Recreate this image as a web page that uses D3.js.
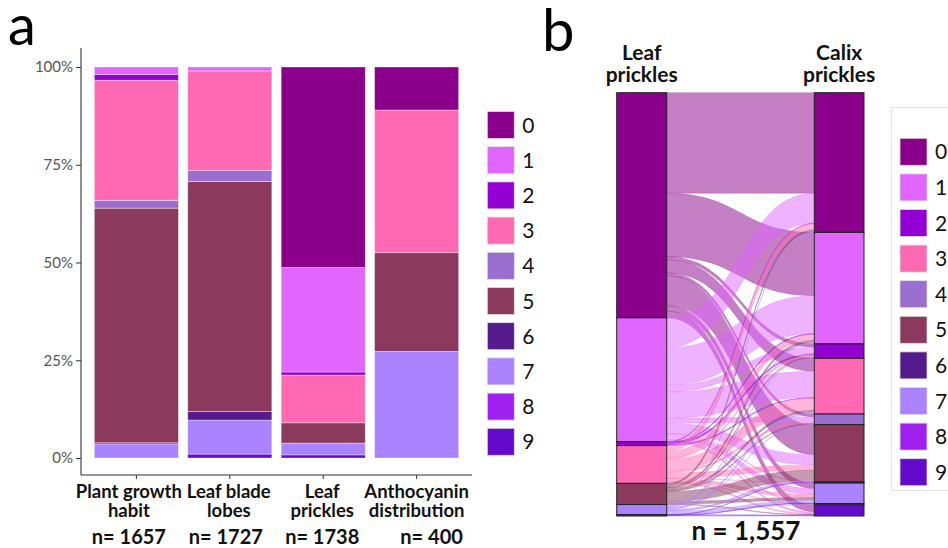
<!DOCTYPE html>
<html>
<head>
<meta charset="utf-8">
<script src="https://cdn.jsdelivr.net/npm/d3@7"></script>
<style>
  html, body { margin: 0; padding: 0; background: #fff; }
  svg { display: block; font-family: Lato, "Open Sans", sans-serif; }
</style>
</head>
<body>
<svg id="fig" width="948" height="548"></svg>
<script>
// Score classes shared by both panels
const classes = ["0", "1", "2", "3", "4", "5", "6", "7", "8", "9"];
const classColors = ["#8B008B", "#E066FF", "#9400D3", "#FF69B4", "#9A6ECE",
                     "#8B3A5E", "#551A8B", "#AB82FF", "#A020F0", "#640ACD"];

// Panel a: share of each class (%) per trait, classes 0..9
const traitLines = [["Plant growth", "habit"], ["Leaf blade", "lobes"],
                    ["Leaf", "prickles"], ["Anthocyanin", "distribution"]];
const traits = traitLines.map(l => l.join(" "));
const sampleSizes = [1657, 1727, 1738, 400];
const growthHabit  = [0, 1.9, 1.5, 30.7, 2.0, 60.0, 0.3, 3.6, 0, 0];
const bladeLobes   = [0, 1.0, 0, 25.5, 2.8, 58.8, 2.2, 8.7, 0, 1.0];
const leafPrickles = [51.3, 26.7, 0.8, 12.2, 0, 5.2, 0, 3.0, 0, 0.8];
const anthocyanin  = [11.0, 0, 0, 36.5, 0, 25.25, 0, 27.25, 0, 0];
const yTicks = [0, 0.25, 0.5, 0.75, 1];

// Panel b: plants scored for leaf prickles (rows) vs calix prickles (columns 0..9)
const leafClasses = ["0", "1", "2", "3", "5", "7", "9"];
const flowsFromLeaf0 = [370, 233, 12, 48, 10, 110, 0, 20, 0, 25];
const flowsFromLeaf1 = [110, 139, 24, 96, 18, 38, 2, 21, 2, 6];
const flowsFromLeaf2 = [2, 3, 6, 3, 0, 0, 0, 0, 0, 0];
const flowsFromLeaf3 = [22, 22, 6, 44, 6, 20, 1, 12, 2, 4];
const flowsFromLeaf5 = [7, 8, 3, 8, 3, 37, 0, 10, 0, 2];
const flowsFromLeaf7 = [3, 5, 2, 6, 2, 5, 1, 10, 1, 2];
const flowsFromLeaf9 = [0, 0, 0, 0, 0, 1, 0, 2, 0, 2];
const axisTitles = [["Leaf", "prickles"], ["Calix", "prickles"]];

const svg = d3.select("#fig");
const color = d3.scaleOrdinal().domain(classes).range(classColors);

// ---------- Panel a: stacked proportions ----------
const shares = [growthHabit, bladeLobes, leafPrickles, anthocyanin];
const rows = traits.map((t, i) => {
  const total = d3.sum(shares[i]);
  const r = { trait: t };
  classes.forEach((c, j) => r[c] = shares[i][j] / total);
  return r;
});
const stackKeys = classes.slice().reverse();   // class 0 ends up on top
const series = d3.stack().keys(stackKeys)(rows);

const x = d3.scaleBand().domain(traits).range([85, 468]).paddingInner(0.1).paddingOuter(0.1);
const y = d3.scaleLinear().domain([0, 1]).range([458, 67]);

const gA = svg.append("g");
gA.selectAll("g.layer").data(series).join("g")
  .attr("class", "layer")
  .attr("fill", d => color(d.key))
  .selectAll("rect").data(d => d).join("rect")
  .attr("x", d => x(d.data.trait))
  .attr("width", x.bandwidth())
  .attr("y", d => y(d[1]))
  .attr("height", d => Math.max(0, y(d[0]) - y(d[1])))
  .attr("stroke", "#fff").attr("stroke-opacity", 0.45).attr("stroke-width", 0.8);

// axes
const axisColor = "#333";
gA.append("line").attr("x1", 81).attr("x2", 81).attr("y1", 48).attr("y2", 475)
  .attr("stroke", axisColor).attr("stroke-width", 1.1);
gA.append("line").attr("x1", 81).attr("x2", 472).attr("y1", 475).attr("y2", 475)
  .attr("stroke", axisColor).attr("stroke-width", 1.1);

const yAxis = gA.append("g").attr("transform", "translate(81,0)")
  .call(d3.axisLeft(y).tickValues(yTicks).tickFormat(d3.format(".0%")).tickSize(5).tickPadding(3));
yAxis.select(".domain").remove();
yAxis.selectAll("line").attr("stroke", axisColor);
yAxis.selectAll("text").attr("fill", "#555").attr("font-size", 15).attr("font-family", "Lato");

const xAxis = gA.append("g").attr("transform", "translate(0,475)")
  .call(d3.axisBottom(x).tickSize(4).tickFormat(""));
xAxis.select(".domain").remove();
xAxis.selectAll("line").attr("stroke", axisColor);

// trait names and sample sizes under the bars
const labelShift = [-7.5, -1, -1, 0];
const nShift = [-7.5, -4, -1, 15];
traits.forEach((t, i) => {
  const cx = x(t) + x.bandwidth() / 2;
  const tx = gA.append("text").attr("text-anchor", "middle")
    .attr("font-weight", 700).attr("font-size", 18.5).attr("fill", "#111");
  traitLines[i].forEach((line, k) => {
    tx.append("tspan").attr("x", cx + labelShift[i]).attr("y", 498 + k * 19).text(line);
  });
  gA.append("text").attr("text-anchor", "middle")
    .attr("x", cx + nShift[i]).attr("y", 544)
    .attr("font-weight", 700).attr("font-size", 20).attr("fill", "#111")
    .text("n= " + sampleSizes[i]);
});

// legend a
function legend(g, x0, y0, step) {
  classes.forEach((c, i) => {
    g.append("rect").attr("x", x0).attr("y", y0 + i * step).attr("width", 27).attr("height", 27)
      .attr("fill", color(c)).attr("stroke", "#ddd").attr("stroke-width", 0.8);
    g.append("text").attr("x", x0 + 35).attr("y", y0 + i * step + 21)
      .attr("font-size", 21).attr("fill", "#111").text(c);
  });
}
legend(svg.append("g"), 487.3, 111.5, 35.2);

svg.append("text").attr("x", 8).attr("y", 45).attr("font-size", 56).attr("fill", "#000").text("a");

// ---------- Panel b: alluvial diagram ----------
const flowRows = [flowsFromLeaf0, flowsFromLeaf1, flowsFromLeaf2, flowsFromLeaf3,
                  flowsFromLeaf5, flowsFromLeaf7, flowsFromLeaf9];
const total = d3.sum(flowRows, r => d3.sum(r));
const yb = d3.scaleLinear().domain([0, total]).range([92.7, 516]);

const leftX = [616.7, 666.7], rightX = [814.3, 864];

// left strata (leaf prickles), lodes ordered by calix class
const leftTotals = flowRows.map(r => d3.sum(r));
const leftStart = d3.cumsum([0].concat(leftTotals));
// right strata (calix prickles), lodes ordered by leaf class
const rightTotals = classes.map((c, j) => d3.sum(flowRows, r => r[j]));
const rightStart = d3.cumsum([0].concat(rightTotals));

const flows = [];
flowRows.forEach((r, i) => {
  let lo = leftStart[i];
  r.forEach((v, j) => {
    if (v > 0) flows.push({ from: leafClasses[i], to: classes[j], value: v, y0: lo, y1: 0, j });
    lo += v;
  });
});
// place lodes on right side: for each calix class, in leaf class order
classes.forEach((c, j) => {
  let ro = rightStart[j];
  flows.filter(f => f.j === j).forEach(f => { f.y1 = ro; ro += f.value; });
});

function flowPath(f) {
  const x0 = leftX[1], x1 = rightX[0], xm = (x0 + x1) / 2;
  const a0 = yb(f.y0), a1 = yb(f.y0 + f.value);
  const b0 = yb(f.y1), b1 = yb(f.y1 + f.value);
  return `M${x0},${a0}C${xm},${a0} ${xm},${b0} ${x1},${b0}` +
         `L${x1},${b1}C${xm},${b1} ${xm},${a1} ${x0},${a1}Z`;
}

const gB = svg.append("g");
gB.selectAll("path.flow").data(flows).join("path")
  .attr("class", "flow")
  .attr("d", flowPath)
  .attr("fill", d => color(d.from)).attr("fill-opacity", 0.5)
  .attr("stroke", d => color(d.from)).attr("stroke-opacity", 0.35).attr("stroke-width", 0.6);

// strata
gB.selectAll("rect.left").data(leafClasses).join("rect")
  .attr("x", leftX[0]).attr("width", leftX[1] - leftX[0])
  .attr("y", (c, i) => yb(leftStart[i]))
  .attr("height", (c, i) => yb(leftStart[i + 1]) - yb(leftStart[i]))
  .attr("fill", c => color(c)).attr("stroke", "#222").attr("stroke-width", 1);
gB.selectAll("rect.right").data(classes).join("rect")
  .attr("x", rightX[0]).attr("width", rightX[1] - rightX[0])
  .attr("y", (c, j) => yb(rightStart[j]))
  .attr("height", (c, j) => yb(rightStart[j + 1]) - yb(rightStart[j]))
  .attr("fill", c => color(c)).attr("stroke", "#222").attr("stroke-width", 1);

// axis titles
[leftX, rightX].forEach((xs, k) => {
  const t = gB.append("text").attr("text-anchor", "middle")
    .attr("font-weight", 700).attr("font-size", 21).attr("fill", "#111");
  axisTitles[k].forEach((line, m) => {
    t.append("tspan").attr("x", (xs[0] + xs[1]) / 2).attr("y", 60 + m * 21.7).text(line);
  });
});

gB.append("text").attr("text-anchor", "middle").attr("x", 746).attr("y", 540)
  .attr("font-weight", 700).attr("font-size", 26).attr("fill", "#111")
  .text("n = " + d3.format(",")(total));

// legend b
const gLb = svg.append("g");
gLb.append("rect").attr("x", 891.5).attr("y", 107.5).attr("width", 70).attr("height", 383)
  .attr("fill", "#fff").attr("stroke", "#e3e3e3").attr("stroke-width", 1);
legend(gLb, 900, 138.3, 35.6);

svg.append("text").attr("x", 542).attr("y", 51).attr("font-size", 58).attr("fill", "#000").text("b");
</script>
</body>
</html>
